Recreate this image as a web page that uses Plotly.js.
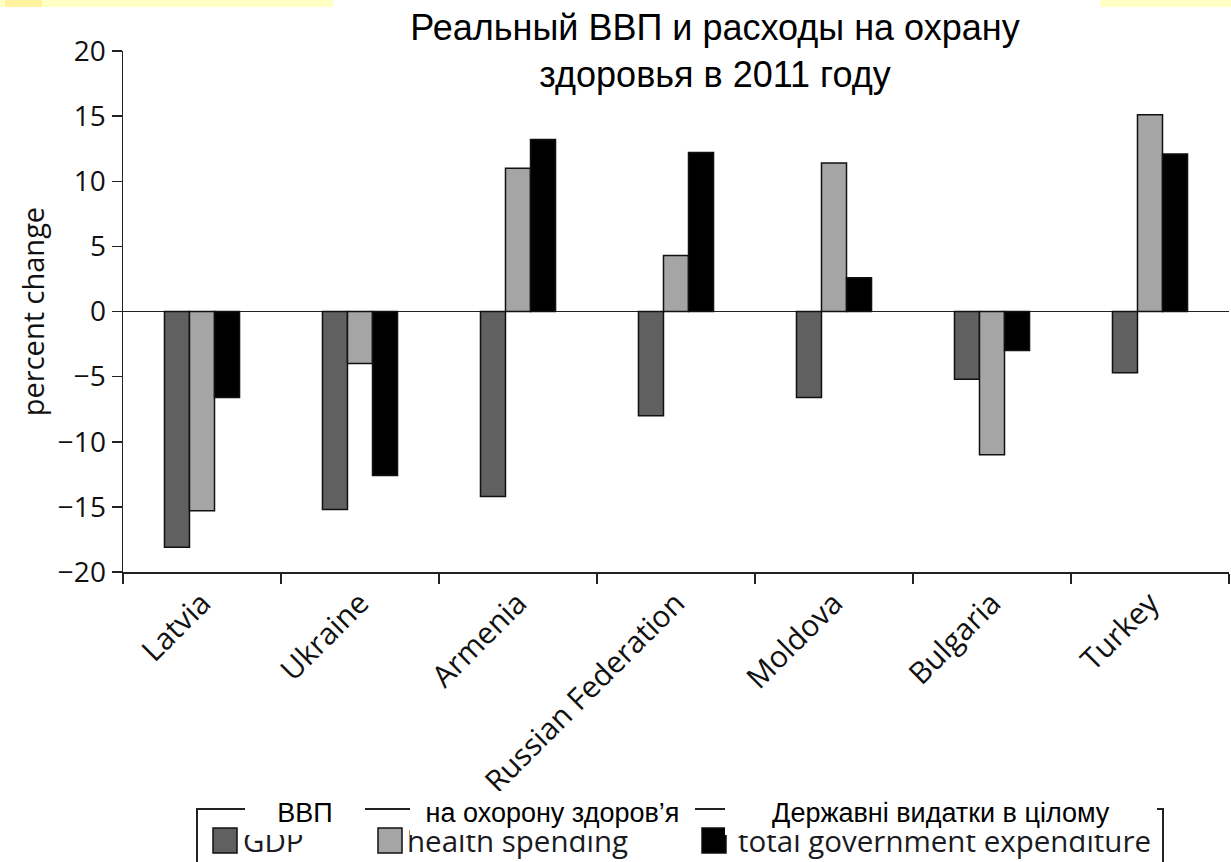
<!DOCTYPE html>
<html><head><meta charset="utf-8">
<script src="https://cdn.plot.ly/plotly-3.0.1.min.js"></script>
<style>html,body{margin:0;padding:0;background:#fff}#chart{width:1231px;height:862px}</style>
</head><body><div id="chart"></div>
<script>
// ---- data ----
const countries = ["Latvia","Ukraine","Armenia","Russian Federation","Moldova","Bulgaria","Turkey"];
const gdp      = [-18.1,-15.2,-14.2,-8.0,-6.6,-5.2,-4.7];
const health   = [-15.3,-4.0,11.0,4.3,11.4,-11.0,15.1];
const totalGov = [-6.6,-12.6,13.2,12.2,2.6,-3.0,12.1];
const seriesNames   = ["GDP","health spending","total government expenditure"];
const seriesNamesUk = ["ВВП","на охорону здоров’я","Державні видатки в цілому"];
const yTicks = [-20,-15,-10,-5,0,5,10,15,20];
const titleText = "Реальный ВВП и расходы на охрану<br>здоровья в 2011 году";
const yTitle = "percent change";

// ---- styling ----
const colors = ["#606060","#a5a5a5","#000000"];
const W = 1231, H = 862;
const L = 123, R = 1229, T = 51, B = 572;
const px = x => (x - L) / (R - L);
const py = y => (B - y) / (B - T);
const yTickFont = {family:"Open Sans, sans-serif", size:28, color:"#111"};
const xTickFont = {family:"Open Sans, sans-serif", size:30, color:"#111"};

const values = [gdp, health, totalGov];
const traces = values.map((v, i) => ({
  type:"bar", x:countries, y:v, name:seriesNames[i],
  marker:{color:colors[i], line:{color:"#111", width:1.5}},
  hoverinfo:"x+y+name"
}));

const shapes = [
  {type:"rect", xref:"paper", yref:"paper", x0:px(0), x1:px(333), y0:py(7), y1:py(0), fillcolor:"#ffffc6", line:{width:0}, layer:"above"},
  {type:"rect", xref:"paper", yref:"paper", x0:px(5), x1:px(42), y0:py(7), y1:py(0), fillcolor:"#fff3a0", line:{width:0}, layer:"above"},
  {type:"rect", xref:"paper", yref:"paper", x0:px(1100), x1:px(1231), y0:py(7), y1:py(0), fillcolor:"#ffffc6", line:{width:0}, layer:"above"},
  // legend frame
  {type:"rect", xref:"paper", yref:"paper", x0:px(197), x1:px(1163), y0:py(930), y1:py(809), fillcolor:"rgba(0,0,0,0)", line:{color:"#222", width:2}, layer:"above"}
];
const symX = [213, 378, 702];
symX.forEach((sx, i) => shapes.push({type:"rect", xref:"paper", yref:"paper",
  x0:px(sx), x1:px(sx+24), y0:py(853), y1:py(828), fillcolor:colors[i], line:{color:"#111", width:1.5}, layer:"above"}));

const annotations = [];
const txtX = [241, 405, 736];
seriesNames.forEach((n, i) => annotations.push({xref:"paper", yref:"paper", x:px(txtX[i]), y:py(840),
  xanchor:"left", yanchor:"middle", text:n, showarrow:false,
  font:{family:"Open Sans, sans-serif", size:29.5, color:"#1a1a22"}}));
const ukBox = [[245,365],[410,695],[725,1157]];
seriesNamesUk.forEach((n, i) => {
  const [a, b] = ukBox[i];
  annotations.push({xref:"paper", yref:"paper", x:px((a+b)/2), y:py(813),
    xanchor:"center", yanchor:"middle", text:n, showarrow:false,
    width:b-a, height:44, bgcolor:"#ffffff", borderpad:0, borderwidth:0,
    font:{family:"Liberation Sans, Arial, sans-serif", size:27, color:"#000"}});
});

const layout = {
  width:W, height:H,
  margin:{l:L, r:W-R, t:T, b:H-B, pad:0},
  paper_bgcolor:"#fff", plot_bgcolor:"#fff",
  showlegend:false,
  barmode:"group", bargap:0.525, bargroupgap:0,
  title:{text:titleText, font:{family:"Liberation Sans, Arial, sans-serif", size:36, color:"#000"},
    x:715/W, xref:"container", xanchor:"center", y:1-40/H, yref:"container", yanchor:"top"},
  xaxis:{type:"category", range:[-0.5, 6.5], tickson:"boundaries", ticks:"outside", ticklen:10,
    tickwidth:1.5, tickcolor:"#222", showline:true, linecolor:"#222", linewidth:1.5,
    showgrid:false, zeroline:false, tickangle:-45, tickfont:xTickFont, automargin:false},
  yaxis:{range:[-20, 20], tickvals:yTicks, ticks:"outside", ticklen:10, tickwidth:1.5, tickcolor:"#222",
    showline:true, linecolor:"#222", linewidth:1.5, showgrid:false,
    zeroline:true, zerolinecolor:"#222", zerolinewidth:1.5,
    tickfont:yTickFont, automargin:false,
    title:{text:yTitle, font:{family:"Open Sans, sans-serif", size:29, color:"#111"}, standoff:4}},
  shapes:shapes, annotations:annotations
};
Plotly.newPlot("chart", traces, layout, {displayModeBar:false, staticPlot:true});
</script></body></html>
